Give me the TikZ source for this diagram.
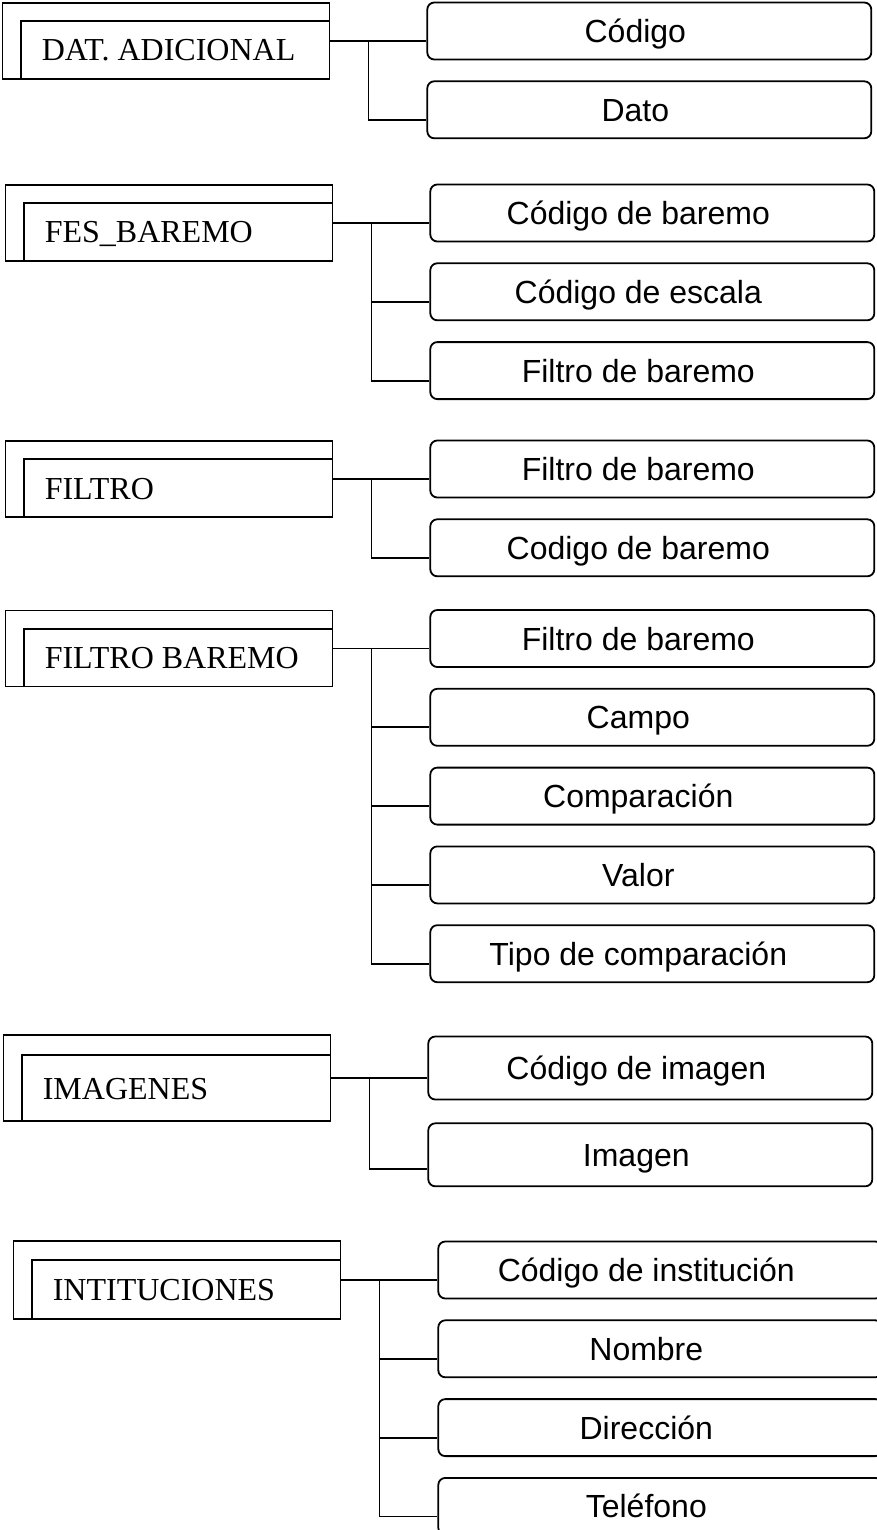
\documentclass[tikz,border=0pt]{standalone}
\usepackage{fontspec}
\setmainfont{Liberation Serif}
\newfontfamily\arialfont{Liberation Sans}
\usetikzlibrary{positioning,calc}

\tikzset{
  entity/.style={draw, line width=1.8pt, minimum width=327pt, minimum height=76pt, inner sep=0pt},
  ename/.style={anchor=west, inner sep=0pt, text height=21pt, text depth=0pt, font=\fontsize{32}{38}\selectfont},
  field/.style={draw, line width=1.8pt, rounded corners=7pt, minimum width=444pt, minimum height=57pt, inner sep=0pt,
    label={[inner sep=0pt, text height=23pt, text depth=0pt, xshift=-14pt, font=\arialfont\fontsize{32}{38}\selectfont]center:#1}},
  conn/.style={line width=1.8pt},
}

\begin{document}
\begin{tikzpicture}[x=1pt, y=-1pt]
  \useasboundingbox (0,0) rectangle (877,1530);

  \node[entity] (datadic) at (166,41) {};
  \draw[conn] ($(datadic.south west)+(19,0)$) |- ($(datadic.north east)+(0,19)$);
  \node[ename] (datadictxt) at ($(datadic.west)+(40,9.5)$) {DAT. ADICIONAL};
  \node[field=Código, right=96pt of datadic, yshift=10pt] (dacod) {};
  \node[field=Dato, below=20pt of dacod] (dadato) {};
  \coordinate (daj) at ($(datadic.east)+(38,0)$);
  \draw[conn] (datadic.east) -- (datadic.east -| dacod.west);
  \draw[conn] (daj) |- ($(dadato.west)+(0,10)$);

  \node[entity] (fesbar) at (169,223) {};
  \draw[conn] ($(fesbar.south west)+(19,0)$) |- ($(fesbar.north east)+(0,19)$);
  \node[ename] (fesbartxt) at ($(fesbar.west)+(40,9.5)$) {FES\_BAREMO};
  \node[field=Código de baremo, right=96pt of fesbar, yshift=10pt] (fbcod) {};
  \node[field=Código de escala, below=20pt of fbcod] (fbesc) {};
  \node[field=Filtro de baremo, below=20pt of fbesc] (fbfil) {};
  \coordinate (fbj) at ($(fesbar.east)+(38,0)$);
  \draw[conn] (fesbar.east) -- (fesbar.east -| fbcod.west);
  \draw[conn] ($(fbj |- fbesc.west)+(0,10)$) -- ($(fbesc.west)+(0,10)$);
  \draw[conn] (fbj) |- ($(fbfil.west)+(0,10)$);

  \node[entity] (filtro) at (169,479) {};
  \draw[conn] ($(filtro.south west)+(19,0)$) |- ($(filtro.north east)+(0,19)$);
  \node[ename] (filtrotxt) at ($(filtro.west)+(40,9.5)$) {FILTRO};
  \node[field=Filtro de baremo, right=96pt of filtro, yshift=10pt] (flfil) {};
  \node[field=Codigo de baremo, below=20pt of flfil] (flcod) {};
  \coordinate (flj) at ($(filtro.east)+(38,0)$);
  \draw[conn] (filtro.east) -- (filtro.east -| flfil.west);
  \draw[conn] (flj) |- ($(flcod.west)+(0,10)$);

  \node[entity] (filbar) at (169,648.5) {};
  \draw[conn] ($(filbar.south west)+(19,0)$) |- ($(filbar.north east)+(0,19)$);
  \node[ename] (filbartxt) at ($(filbar.west)+(40,9.5)$) {FILTRO BAREMO};
  \node[field=Filtro de baremo, right=96pt of filbar, yshift=10pt] (bafil) {};
  \node[field=Campo, below=20pt of bafil] (bacam) {};
  \node[field=Comparación, below=20pt of bacam] (bacom) {};
  \node[field=Valor, below=20pt of bacom] (baval) {};
  \node[field=Tipo de comparación, below=20pt of baval] (batip) {};
  \coordinate (baj) at ($(filbar.east)+(38,0)$);
  \draw[conn] (filbar.east) -- (filbar.east -| bafil.west);
  \draw[conn] ($(baj |- bacam.west)+(0,10)$) -- ($(bacam.west)+(0,10)$);
  \draw[conn] ($(baj |- bacom.west)+(0,10)$) -- ($(bacom.west)+(0,10)$);
  \draw[conn] ($(baj |- baval.west)+(0,10)$) -- ($(baval.west)+(0,10)$);
  \draw[conn] (baj) |- ($(batip.west)+(0,10)$);

  \node[entity, minimum height=86pt] (imagenes) at (167,1078) {};
  \draw[conn] ($(imagenes.south west)+(19,0)$) |- ($(imagenes.north east)+(0,21)$);
  \node[ename] (imagenestxt) at ($(imagenes.west)+(40,10.5)$) {IMAGENES};
  \node[field=Código de imagen, minimum height=63pt, right=96pt of imagenes, yshift=10pt] (imcod) {};
  \node[field=Imagen, minimum height=63pt, below=22pt of imcod] (imima) {};
  \coordinate (imj) at ($(imagenes.east)+(38,0)$);
  \draw[conn] (imagenes.east) -- (imagenes.east -| imcod.west);
  \draw[conn] (imj) |- ($(imima.west)+(0,14)$);

  \node[entity, minimum height=78pt] (intit) at (177,1280) {};
  \draw[conn] ($(intit.south west)+(19,0)$) |- ($(intit.north east)+(0,20)$);
  \node[ename] (intittxt) at ($(intit.west)+(40,10)$) {INTITUCIONES};
  \node[field=Código de institución, right=96pt of intit, yshift=10pt] (incod) {};
  \node[field=Nombre, below=20pt of incod] (innom) {};
  \node[field=Dirección, below=20pt of innom] (indir) {};
  \node[field=Teléfono, below=20pt of indir] (intel) {};
  \coordinate (inj) at ($(intit.east)+(38,0)$);
  \draw[conn] (intit.east) -- (intit.east -| incod.west);
  \draw[conn] ($(inj |- innom.west)+(0,10)$) -- ($(innom.west)+(0,10)$);
  \draw[conn] ($(inj |- indir.west)+(0,10)$) -- ($(indir.west)+(0,10)$);
  \draw[conn] (inj) |- ($(intel.west)+(0,10)$);
\end{tikzpicture}
\end{document}
